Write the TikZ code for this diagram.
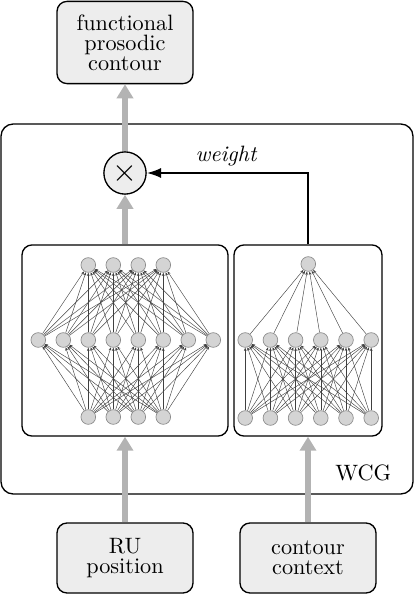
\documentclass[tikz,border=0pt]{standalone}
\usetikzlibrary{arrows.meta}
\definecolor{boxgray}{HTML}{EDEDED}
\definecolor{arrgray}{HTML}{B3B3B3}
\definecolor{nnfill}{HTML}{D4D4D4}
\definecolor{nnline}{HTML}{8C8C8C}
\begin{document}
\begin{tikzpicture}[x=0.45pt,y=-0.45pt,
  iobox/.style={draw, rounded corners=4.5pt, fill=boxgray, line width=0.6pt, align=center,
    inner sep=0pt, minimum width=61.2pt, font=\fontsize{10}{9}\selectfont},
  panel/.style={draw, rounded corners=4.5pt, line width=0.6pt, inner sep=0pt, minimum height=86pt},
  grayarrow/.style={draw=arrgray, line width=3.1pt, -{Triangle[length=6.3pt,width=7.2pt]}},
  blackarrow/.style={draw=black, line width=0.9pt, -{Latex[length=6.5pt,width=4.6pt]}},
  nn/.style={circle, fill=nnfill, draw=nnline, line width=0.3pt, minimum size=6.6pt, inner sep=0pt},
  nnedge/.style={draw=black!75, line width=0.2pt, -{Stealth[length=1.5pt,width=1.2pt]}},
  mult/.style={circle, draw, fill=boxgray, line width=0.6pt, minimum size=19pt, inner sep=0pt},
  lbl/.style={font=\fontsize{10}{12}\selectfont}
]
\useasboundingbox (0,0) rectangle (415,594);
% outer WCG frame
\node[draw, rounded corners=5.5pt, line width=0.6pt, minimum width=185.4pt, minimum height=166.5pt, inner sep=0pt] (wcg) at (207,309) {};
\node[lbl, anchor=base east] (wcglabel) at (399,480) {WCG};
% io boxes
\node[iobox, minimum height=37pt] (out) at (125,42.5) {functional\\prosodic\\contour};
\node[iobox, minimum height=31.5pt] (ru) at (125,558) {RU\\position};
\node[iobox, minimum height=31.5pt] (cc) at (308,558) {contour\\context};
% panels
\node[panel, minimum width=92.7pt] (leftnn) at (125,340.5) {};
\node[panel, minimum width=66.6pt] (rightnn) at (308,340.5) {};
% multiplier
\node[mult] (mul) at (125,173) {\Large$\times$};
% left network
\foreach \i in {1,...,4} {
  \node[nn] (lt\i) at ({63.3+25*\i},265) {};
  \node[nn] (lb\i) at ({63.3+25*\i},417) {};
}
\foreach \j in {1,...,8} \node[nn] (lm\j) at ({13.3+25*\j},340) {};
\foreach \i in {1,...,4} \foreach \j in {1,...,8} {
  \draw[nnedge] (lm\j) -- (lt\i);
  \draw[nnedge] (lb\i) -- (lm\j);
}
% right network
\node[nn] (rt) at (308.3,264) {};
\foreach \i in {1,...,6} {
  \node[nn] (rm\i) at ({220+25.2*\i},340) {};
  \node[nn] (rb\i) at ({220+25.2*\i},418) {};
}
\foreach \i in {1,...,6} {
  \draw[nnedge] (rm\i) -- (rt);
  \foreach \j in {1,...,6} \draw[nnedge] (rb\i) -- (rm\j);
}
% arrows
\draw[grayarrow] (ru.north) -- (leftnn.south);
\draw[grayarrow] (cc.north) -- (rightnn.south);
\draw[grayarrow] (leftnn.north) -- (mul.south);
\draw[grayarrow] (mul.north) -- (out.south);
\draw[blackarrow] (rightnn.north) |- (mul.east);
\node[lbl, anchor=base, font=\itshape] (wlabel) at (226,161) {weight};
\end{tikzpicture}
\end{document}
